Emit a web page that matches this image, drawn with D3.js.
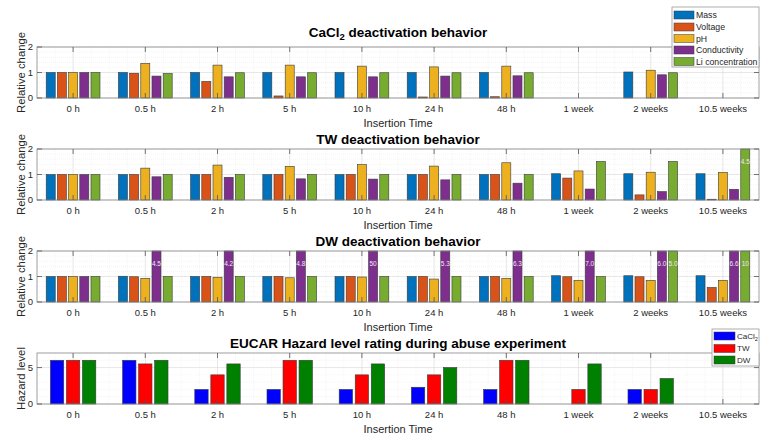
<!DOCTYPE html>
<html>
<head>
<meta charset="utf-8">
<script src="https://cdn.jsdelivr.net/npm/d3@7"></script>
<style>
  html, body { margin: 0; padding: 0; background: #fff; }
  svg { display: block; font-family: "Liberation Sans", Arial, Helvetica, sans-serif; }
</style>
</head>
<body>
<svg id="chart" width="770" height="443"></svg>
<script>
// ---------- DATA ----------
const categories = ["0 h", "0.5 h", "2 h", "5 h", "10 h", "24 h", "48 h", "1 week", "2 weeks", "10.5 weeks"];
const seriesNames = ["Mass", "Voltage", "pH", "Conductivity", "Li concentration"];
const hazardNames = ["CaCl2", "TW", "DW"];

// CaCl2 deactivation behavior (relative change)
const cacl2Mass    = [1, 1,    1,    1,    1,    1,    1,    null, 1.02, null];
const cacl2Voltage = [1, 0.97, 0.65, 0.08, null, 0.04, 0.05, null, null, null];
const cacl2PH      = [1, 1.36, 1.29, 1.29, 1.25, 1.22, 1.25, null, 1.09, null];
const cacl2Cond    = [1, 0.86, 0.83, 0.83, 0.83, 0.86, 0.87, null, 0.91, null];
const cacl2Li      = [1, 0.96, 0.99, 0.99, 0.99, 0.99, 0.99, null, 0.99, null];

// TW deactivation behavior
const twMass    = [1, 1,    1,    1,    1,    1,    1,    1.03, 1.03, 1.03];
const twVoltage = [1, 1,    1,    1,    1,    1,    1,    0.86, 0.20, 0.03];
const twPH      = [1, 1.25, 1.37, 1.32, 1.39, 1.33, 1.46, 1.14, 1.09, 1.08];
const twCond    = [1, 0.91, 0.89, 0.83, 0.82, 0.79, 0.66, 0.43, 0.33, 0.42];
const twLi      = [1, 1,    1,    1,    1,    1,    1,    1.51, 1.51, 4.5];

// DW deactivation behavior
const dwMass    = [1, 1.01, 1,    1,    1,    1,    1,    1.03, 1.03, 1.03];
const dwVoltage = [1, 0.99, 1,    1,    1,    1,    1,    0.99, 0.99, 0.57];
const dwPH      = [1, 0.93, 0.97, 0.95, 0.98, 0.90, 0.93, 0.85, 0.85, 0.85];
const dwCond    = [1, 4.5,  4.2,  4.8,  50,   5.3,  6.3,  7.0,  6.0,  6.6];
const dwLi      = [1, 1,    1,    1,    1,    1,    1,    1,    5.0,  10];

// EUCAR hazard level
const hazardCaCl2 = [6, 6,   2,   2, 2,   2.3, 2, null, 2,   null];
const hazardTW    = [6, 5.5, 4,   6, 4,   4,   6, 2,    2,   null];
const hazardDW    = [6, 6,   5.5, 6, 5.5, 5,   6, 5.5,  3.5, null];

const relTicks = [0, 1, 2];
const hazardTicks = [0, 5];

// ---------- STYLE ----------
const seriesColors = ["#0072BD", "#D95319", "#EDB120", "#7E2F8E", "#77AC30"];
const hazardColors = ["#0000FF", "#FF0000", "#008000"];

const svg = d3.select("#chart");
const X0 = 37, X1 = 759;
const x = d3.scaleLinear().domain([0.5, categories.length + 0.5]).range([X0, X1]);

function fmtLabel(v) {
  return Number.isInteger(v) && v >= 10 ? String(v) : v.toFixed(1);
}

function drawPanel(opt) {
  const { top, bottom, ymax, ticks, minorStep, series, colors, pitch, width, title, ylabel, titleY } = opt;
  const y = d3.scaleLinear().domain([0, ymax]).range([bottom, top]);
  const g = svg.append("g");

  // minor grid
  const minorY = d3.range(0, ymax + 1e-9, minorStep).filter(v => !ticks.includes(v));
  g.selectAll(".mgy").data(minorY).join("line")
    .attr("x1", X0).attr("x2", X1)
    .attr("y1", d => y(d)).attr("y2", d => y(d))
    .attr("stroke", "#ececec").attr("stroke-width", 0.6).attr("stroke-dasharray", "1,1");
  const minorX = d3.range(0.5, categories.length + 0.5, 0.25).filter(v => Math.abs(v - Math.round(v)) > 1e-6);
  g.selectAll(".mgx").data(minorX).join("line")
    .attr("y1", top).attr("y2", bottom)
    .attr("x1", d => x(d)).attr("x2", d => x(d))
    .attr("stroke", "#efefef").attr("stroke-width", 0.6).attr("stroke-dasharray", "1,1");
  // major grid
  g.selectAll(".gy").data(ticks).join("line")
    .attr("x1", X0).attr("x2", X1)
    .attr("y1", d => y(d)).attr("y2", d => y(d))
    .attr("stroke", "#dcdcdc").attr("stroke-width", 0.7);
  g.selectAll(".gx").data(categories.map((c, i) => i + 1)).join("line")
    .attr("y1", top).attr("y2", bottom)
    .attr("x1", d => x(d)).attr("x2", d => x(d))
    .attr("stroke", "#dcdcdc").attr("stroke-width", 0.7);

  // bars
  const n = series.length;
  series.forEach((vals, si) => {
    const off = (si - (n - 1) / 2) * pitch;
    const data = vals.map((v, i) => ({ v, i })).filter(d => d.v !== null);
    g.selectAll(".bar" + si).data(data).join("rect")
      .attr("x", d => x(d.i + 1 + off - width / 2))
      .attr("width", x(width) - x(0))
      .attr("y", d => y(Math.min(d.v, ymax)))
      .attr("height", d => y(0) - y(Math.min(d.v, ymax)))
      .attr("fill", colors[si])
      .attr("stroke", "#3a3a3a").attr("stroke-width", 0.6);
    const over = data.filter(d => d.v > ymax);
    g.selectAll(".lab" + si).data(over).join("text")
      .attr("x", d => x(d.i + 1 + off))
      .attr("y", y(ymax * 0.75))
      .attr("dy", "0.35em")
      .attr("text-anchor", "middle")
      .attr("font-size", 6.5)
      .attr("fill", "#f2e8f5")
      .text(d => fmtLabel(d.v));
  });

  // box
  g.append("rect").attr("x", X0).attr("y", top).attr("width", X1 - X0).attr("height", bottom - top)
    .attr("fill", "none").attr("stroke", "#8a8a8a").attr("stroke-width", 0.8);

  // x ticks (bottom + top, inward)
  const xt = categories.map((c, i) => i + 1);
  g.selectAll(".xtb").data(xt).join("line")
    .attr("x1", d => x(d)).attr("x2", d => x(d))
    .attr("y1", bottom).attr("y2", bottom - 5)
    .attr("stroke", "#555").attr("stroke-width", 0.8);
  g.selectAll(".xtt").data(xt).join("line")
    .attr("x1", d => x(d)).attr("x2", d => x(d))
    .attr("y1", top).attr("y2", top + 5)
    .attr("stroke", "#555").attr("stroke-width", 0.8);
  // y ticks
  g.selectAll(".ytl").data(ticks).join("line")
    .attr("x1", X0).attr("x2", X0 + 5)
    .attr("y1", d => y(d)).attr("y2", d => y(d))
    .attr("stroke", "#555").attr("stroke-width", 0.8);
  g.selectAll(".ytr").data(ticks).join("line")
    .attr("x1", X1).attr("x2", X1 - 5)
    .attr("y1", d => y(d)).attr("y2", d => y(d))
    .attr("stroke", "#555").attr("stroke-width", 0.8);

  // tick labels
  g.selectAll(".xl").data(categories).join("text")
    .attr("x", (d, i) => x(i + 1)).attr("y", bottom + 14)
    .attr("text-anchor", "middle").attr("font-size", 9.5).attr("fill", "#262626")
    .text(d => d);
  g.selectAll(".yl").data(ticks).join("text")
    .attr("x", X0 - 4).attr("y", d => y(d)).attr("dy", "0.35em")
    .attr("text-anchor", "end").attr("font-size", 9.5).attr("fill", "#262626")
    .text(d => d);

  // axis labels
  g.append("text").attr("x", (X0 + X1) / 2).attr("y", bottom + 29)
    .attr("text-anchor", "middle").attr("font-size", 11).attr("fill", "#262626")
    .text("Insertion Time");
  g.append("text")
    .attr("transform", `translate(25,${(top + bottom) / 2}) rotate(-90)`)
    .attr("text-anchor", "middle").attr("font-size", 11.3).attr("fill", "#262626")
    .text(ylabel);

  // title
  const t = g.append("text").attr("x", (X0 + X1) / 2).attr("y", titleY)
    .attr("text-anchor", "middle").attr("font-size", 13.5).attr("font-weight", "bold").attr("fill", "#000");
  title.forEach(part => {
    const ts = t.append("tspan").text(part.t);
    if (part.sub) ts.attr("baseline-shift", "-30%").attr("font-size", 9.5);
  });
  return g;
}

drawPanel({
  top: 47, bottom: 98, ymax: 2, ticks: relTicks, minorStep: 0.2,
  series: [cacl2Mass, cacl2Voltage, cacl2PH, cacl2Cond, cacl2Li], colors: seriesColors,
  pitch: 0.155, width: 0.125, ylabel: "Relative change", titleY: 37,
  title: [{ t: "CaCl" }, { t: "2", sub: true }, { t: " deactivation behavior" }]
});
drawPanel({
  top: 149, bottom: 200, ymax: 2, ticks: relTicks, minorStep: 0.2,
  series: [twMass, twVoltage, twPH, twCond, twLi], colors: seriesColors,
  pitch: 0.155, width: 0.125, ylabel: "Relative change", titleY: 144,
  title: [{ t: "TW deactivation behavior" }]
});
drawPanel({
  top: 251, bottom: 302, ymax: 2, ticks: relTicks, minorStep: 0.2,
  series: [dwMass, dwVoltage, dwPH, dwCond, dwLi], colors: seriesColors,
  pitch: 0.155, width: 0.125, ylabel: "Relative change", titleY: 246,
  title: [{ t: "DW deactivation behavior" }]
});
drawPanel({
  top: 353, bottom: 404, ymax: 7, ticks: hazardTicks, minorStep: 1,
  series: [hazardCaCl2, hazardTW, hazardDW], colors: hazardColors,
  pitch: 0.222, width: 0.185, ylabel: "Hazard level", titleY: 348,
  title: [{ t: "EUCAR Hazard level rating during abuse experiment" }]
});

// ---------- LEGENDS ----------
function legend(x0, y0, w, h, rows, names, colors, fs, swW, swH, subFirst) {
  const g = svg.append("g");
  g.append("rect").attr("x", x0).attr("y", y0).attr("width", w).attr("height", h)
    .attr("fill", "#fff").attr("stroke", "#9a9a9a").attr("stroke-width", 0.8);
  names.forEach((nm, i) => {
    const cy = rows[i];
    g.append("rect").attr("x", x0 + 2).attr("y", cy - swH / 2).attr("width", swW).attr("height", swH)
      .attr("fill", colors[i]).attr("stroke", "#3a3a3a").attr("stroke-width", 0.5);
    const t = g.append("text").attr("x", x0 + swW + 4).attr("y", cy).attr("dy", "0.35em")
      .attr("font-size", fs).attr("fill", "#262626");
    if (subFirst && nm === "CaCl2") {
      t.append("tspan").text("CaCl");
      t.append("tspan").text("2").attr("font-size", fs * 0.7).attr("baseline-shift", "-30%");
    } else t.text(nm);
  });
}
legend(672, 7, 87, 60, [15, 27, 38.5, 50, 61.5], seriesNames, seriesColors, 8.7, 20, 8, false);
legend(712, 329, 47, 37, [336, 348.5, 360], hazardNames, hazardColors, 8, 21, 8, true);
</script>
</body>
</html>
